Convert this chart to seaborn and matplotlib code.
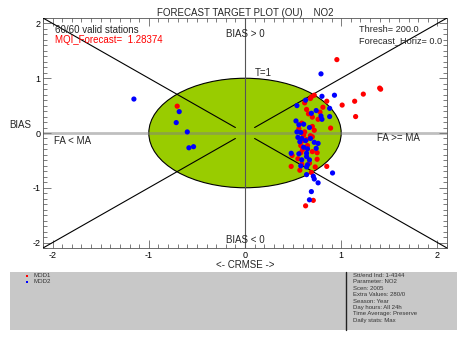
import numpy as np
import pandas as pd
import matplotlib
matplotlib.use("Agg")
import matplotlib.pyplot as plt
from matplotlib.patches import Ellipse, Rectangle
import seaborn as sns

sns.set_style("white")
plt.rcParams['font.family'] = ['Liberation Sans', 'DejaVu Sans']
plt.rcParams['axes.unicode_minus'] = False

# ---- data ----
mod1_crmse = [-0.705, 0.955, 1.40, 1.41, 1.23, 1.14, 1.01, 1.15, 0.85, 0.72, 0.69, 0.68, 0.81, 0.64,
              0.70, 0.76, 0.89, 0.59, 0.70, 0.62, 0.61, 0.68, 0.70, 0.59, 0.58, 0.65, 0.70, 0.75,
              0.49, 0.58, 0.55, 0.75, 0.59, 0.67, 0.48, 0.57, 0.69, 0.85, 0.71, 0.63,
              0.66, 0.62, 0.72, 0.60, 0.64, 0.73, 0.56, 0.78]
mod1_bias = [0.49, 1.34, 0.82, 0.80, 0.71, 0.58, 0.51, 0.30, 0.58, 0.69, 0.66, 0.63, 0.47, 0.43,
             0.29, 0.25, 0.09, 0.18, 0.12, 0.02, -0.04, -0.05, -0.07, -0.15, -0.23, -0.23, -0.34, -0.36,
             -0.41, -0.36, -0.47, -0.48, -0.57, -0.55, -0.61, -0.68, -0.72, -0.61, -1.23, -1.33,
             0.35, 0.55, 0.05, -0.30, -0.12, -0.62, 0.08, 0.38]
mod2_crmse = [-1.155, -0.684, -0.715, -0.60, -0.583, -0.535, 0.79, 0.93, 0.80, 0.63, 0.54, 0.88,
              0.69, 0.74, 0.79, 0.88, 0.80, 0.53, 0.56, 0.61, 0.67, 0.54, 0.58, 0.55, 0.59, 0.68,
              0.57, 0.63, 0.72, 0.76, 0.61, 0.65, 0.74, 0.48, 0.56, 0.64, 0.64, 0.59, 0.67, 0.65,
              0.58, 0.64, 0.64, 0.71, 0.72, 0.76, 0.91, 0.69, 0.67]
mod2_bias = [0.62, 0.39, 0.19, 0.02, -0.27, -0.25, 1.08, 0.69, 0.67, 0.60, 0.50, 0.45,
             0.36, 0.41, 0.31, 0.30, 0.25, 0.22, 0.15, 0.16, 0.10, 0.02, 0.01, -0.08, -0.10, -0.10,
             -0.16, -0.14, -0.17, -0.19, -0.26, -0.29, -0.28, -0.37, -0.38, -0.37, -0.43, -0.49, -0.49, -0.58,
             -0.60, -0.62, -0.76, -0.79, -0.84, -0.91, -0.73, -1.07, -1.22]
models = ["MOD1", "MOD2"]
colors = ["#FF0000", "#0000FF"]
info_lines = ["Stt/end Ind: 1-4344", "Parameter: NO2", "Scen: 2005", "Extra Values: 280/0",
              "Season: Year", "Day hours: All 24h", "Time Average: Preserve", "Daily stats: Max"]

df = pd.DataFrame({
    "crmse": mod1_crmse + mod2_crmse,
    "bias": mod1_bias + mod2_bias,
    "model": [models[0]] * len(mod1_crmse) + [models[1]] * len(mod2_crmse),
})

fig = plt.figure(figsize=(4.67, 3.40), dpi=100)
ax = fig.add_axes([43/467, 1-248/340, 404/467, 230/340])
ax.set_xlim(-2.1, 2.1)
ax.set_ylim(-2.1, 2.1)

# target ellipse (unit circle in data units)
ax.add_patch(Ellipse((0, 0), 2, 2, facecolor="#99CC00", edgecolor="black", linewidth=0.8, zorder=1))
# reference lines
ax.axhline(0, color="#808080", alpha=0.5, linewidth=2.0, zorder=2)
ax.axvline(0, color="#555555", linewidth=0.8, zorder=2)
for sx, sy in [(-1, 1), (1, 1), (-1, -1), (1, -1)]:
    ax.plot([0.1 * sx, 2.1 * sx], [0.1 * sy, 2.1 * sy], color="black", linewidth=0.8, zorder=3)

sns.scatterplot(data=df, x="crmse", y="bias", hue="model", palette=colors, s=14,
                linewidth=0, legend=False, ax=ax, zorder=4)

ax.set_xticks([-2, -1, 0, 1, 2])
ax.set_yticks([-2, -1, 0, 1, 2])
ax.set_xticks(np.arange(-2.1, 2.11, 0.1), minor=True)
ax.set_yticks(np.arange(-2.1, 2.11, 0.1), minor=True)
ax.tick_params(which="both", direction="in", bottom=True, left=True, top=True, right=True,
               colors="#666666", labelcolor="black", labelsize=6.5, width=0.6, pad=2)
ax.tick_params(which="major", length=6)
ax.tick_params(which="minor", length=3)
for sp in ax.spines.values():
    sp.set_color("#555555")
    sp.set_linewidth(0.6)
ax.set_xlabel("")
ax.set_ylabel("")
ax.set_title("FORECAST TARGET PLOT (OU)    NO2", fontsize=7, pad=1.5)

fs = 7
ax.text(-1.98, 1.89, "60/60 valid stations", fontsize=fs, va="center", ha="left")
ax.text(-1.98, 1.69, "MQI_Forecast=  1.28374", fontsize=fs, va="center", ha="left", color="red")
ax.text(1.19, 1.89, "Thresh= 200.0", fontsize=6.6, va="center", ha="left")
ax.text(1.19, 1.68, "Forecast_Horiz= 0.0", fontsize=6.6, va="center", ha="left")
ax.text(-0.2, 1.80, "BIAS > 0", fontsize=fs, va="center", ha="left")
ax.text(-0.2, -1.95, "BIAS < 0", fontsize=fs, va="center", ha="left")
ax.text(-1.99, -0.14, "FA < MA", fontsize=fs, va="center", ha="left")
ax.text(1.375, -0.10, "FA >= MA", fontsize=fs, va="center", ha="left")
ax.text(0.10, 1.09, "T=1", fontsize=fs, va="center", ha="left")
ax.text(-0.03, 0.14, "BIAS", fontsize=fs, va="center", ha="right", transform=ax.get_yaxis_transform())
fig.text(245/467, 1-264.5/340, "<- CRMSE ->", fontsize=fs, ha="center", va="center")

# bottom info panel
fig.patches.append(Rectangle((10/467, 1-330/340), 447/467, 58/340, transform=fig.transFigure,
                             facecolor="#C8C8C8", edgecolor="none", zorder=0))
fig.lines.append(plt.Line2D([346/467, 346/467], [1-330/340, 1-272/340], transform=fig.transFigure,
                            color="#222222", linewidth=1.0))
for i, (m, c) in enumerate(zip(models, colors)):
    yy = 1 - (276 + 6 * i) / 340
    fig.patches.append(Rectangle((25.5/467, yy - 1/340), 2.5/467, 2.5/340, transform=fig.transFigure,
                                 facecolor=c, edgecolor="none"))
    fig.text(33/467, yy + 0.5/340, m, fontsize=4.3, ha="left", va="center", color="#333333")
for i, line in enumerate(info_lines):
    fig.text(353/467, 1 - (275.5 + 6.4 * i) / 340, line, fontsize=4.3, ha="left", va="center", color="#333333")

fig.savefig("out.png", dpi=100)
